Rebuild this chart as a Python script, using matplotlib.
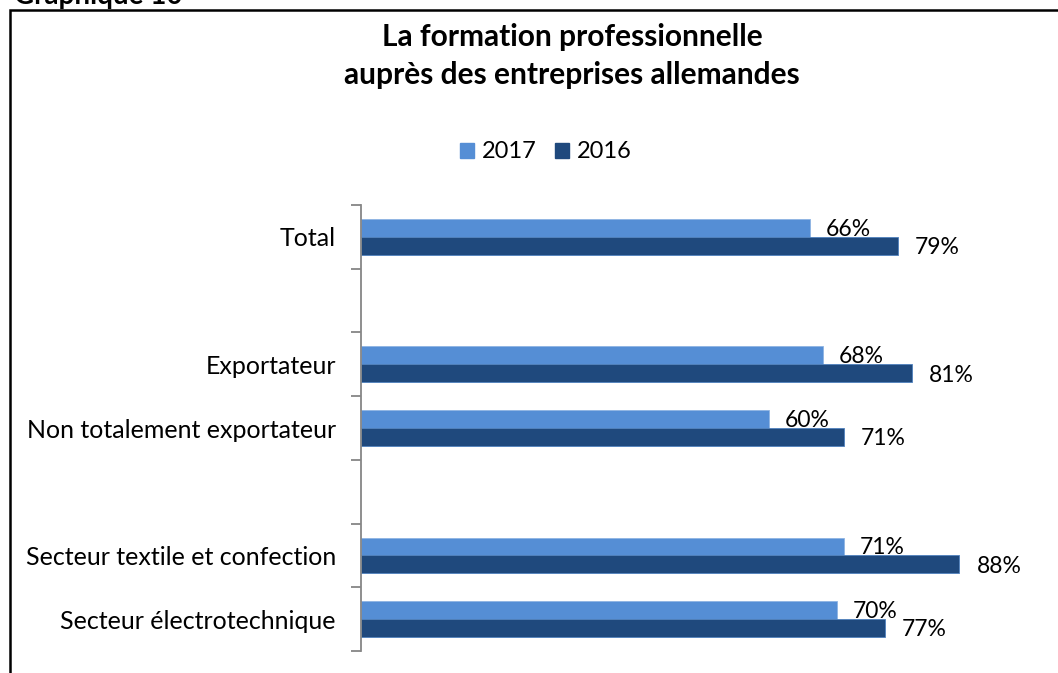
import matplotlib.pyplot as plt
from matplotlib.patches import Rectangle
import numpy as np

# Données (les cases vides servent d'espacement entre les groupes)
categories = ["Total", "", "Exportateur", "Non totalement exportateur", "",
              "Secteur textile et confection", "Secteur électrotechnique"]
valeurs_2017 = [66, None, 68, 60, None, 71, 70]
valeurs_2016 = [79, None, 81, 71, None, 88, 77]
annees = ["2017", "2016"]

bleu_clair = "#558ED5"
bleu_fonce = "#1F497D"
gris_axe = "#868686"
police = "Lato"

W, H = 1058, 673
fig = plt.figure(figsize=(W / 100, H / 100), dpi=100)

# cadre du graphique (dépasse à droite et en bas)
fig.add_artist(Rectangle((10 / W, -0.1), 1.2, 1 - 10 / H + 0.1, transform=fig.transFigure,
                         fill=False, edgecolor="black", linewidth=1.8))
fig.text(14 / W, 1 - 4 / H, "Graphique 10", fontsize=20, fontweight="bold",
         family=police, va="baseline", ha="left")

fig.text(572 / W, 1 - 37 / H, "La formation professionnelle", fontsize=21.5,
         fontweight="bold", family=police, ha="center", va="center")
fig.text(572 / W, 1 - 75 / H, "auprès des entreprises allemandes", fontsize=21.5,
         fontweight="bold", family=police, ha="center", va="center")

ax = fig.add_axes([361 / W, 1 - 651 / H, 680 / W, (651 - 205) / H])

pos = np.arange(len(categories))
h = 0.28
for i, (v17, v16) in enumerate(zip(valeurs_2017, valeurs_2016)):
    if v17 is None:
        continue
    ax.barh(pos[i] - h / 2, v17, height=h, color=bleu_clair, edgecolor="#8EB4E3", linewidth=0.6)
    ax.barh(pos[i] + h / 2, v16, height=h, color=bleu_fonce, edgecolor="#4F81BD", linewidth=0.6)
    ax.text(v17 + 2.3, pos[i] - h / 2 + 0.02, f"{v17}%", fontsize=16.5, family=police,
            va="center", ha="left")
    ax.text(v16 + 2.5, pos[i] + h / 2 + 0.03, f"{v16}%", fontsize=16.5, family=police,
            va="center", ha="left")

ax.set_xlim(0, 100)
ax.set_ylim(len(categories) - 0.5, -0.5)
ax.set_yticks(np.arange(len(categories) + 1) - 0.5)
ax.set_yticklabels([])
ax.set_yticks(pos, minor=True)
ax.set_yticklabels(categories, minor=True, fontsize=18, family=police)
ax.tick_params(axis="y", which="major", length=7, width=1.3, color=gris_axe)
ax.tick_params(axis="y", which="minor", length=0, pad=18)
ax.set_xticks([])
for s in ["top", "right", "bottom"]:
    ax.spines[s].set_visible(False)
ax.spines["left"].set_color(gris_axe)
ax.spines["left"].set_linewidth(1.3)

# légende
fig.legend(handles=[Rectangle((0, 0), 1, 1, color=bleu_clair),
                    Rectangle((0, 0), 1, 1, color=bleu_fonce)],
           labels=annees, loc="center", bbox_to_anchor=(546 / W, 1 - 152 / H),
           ncol=2, frameon=False, prop={"family": police, "size": 17},
           handlelength=0.6, handleheight=0.6, handletextpad=0.35, columnspacing=0.75)

fig.savefig("out.png", dpi=100)
